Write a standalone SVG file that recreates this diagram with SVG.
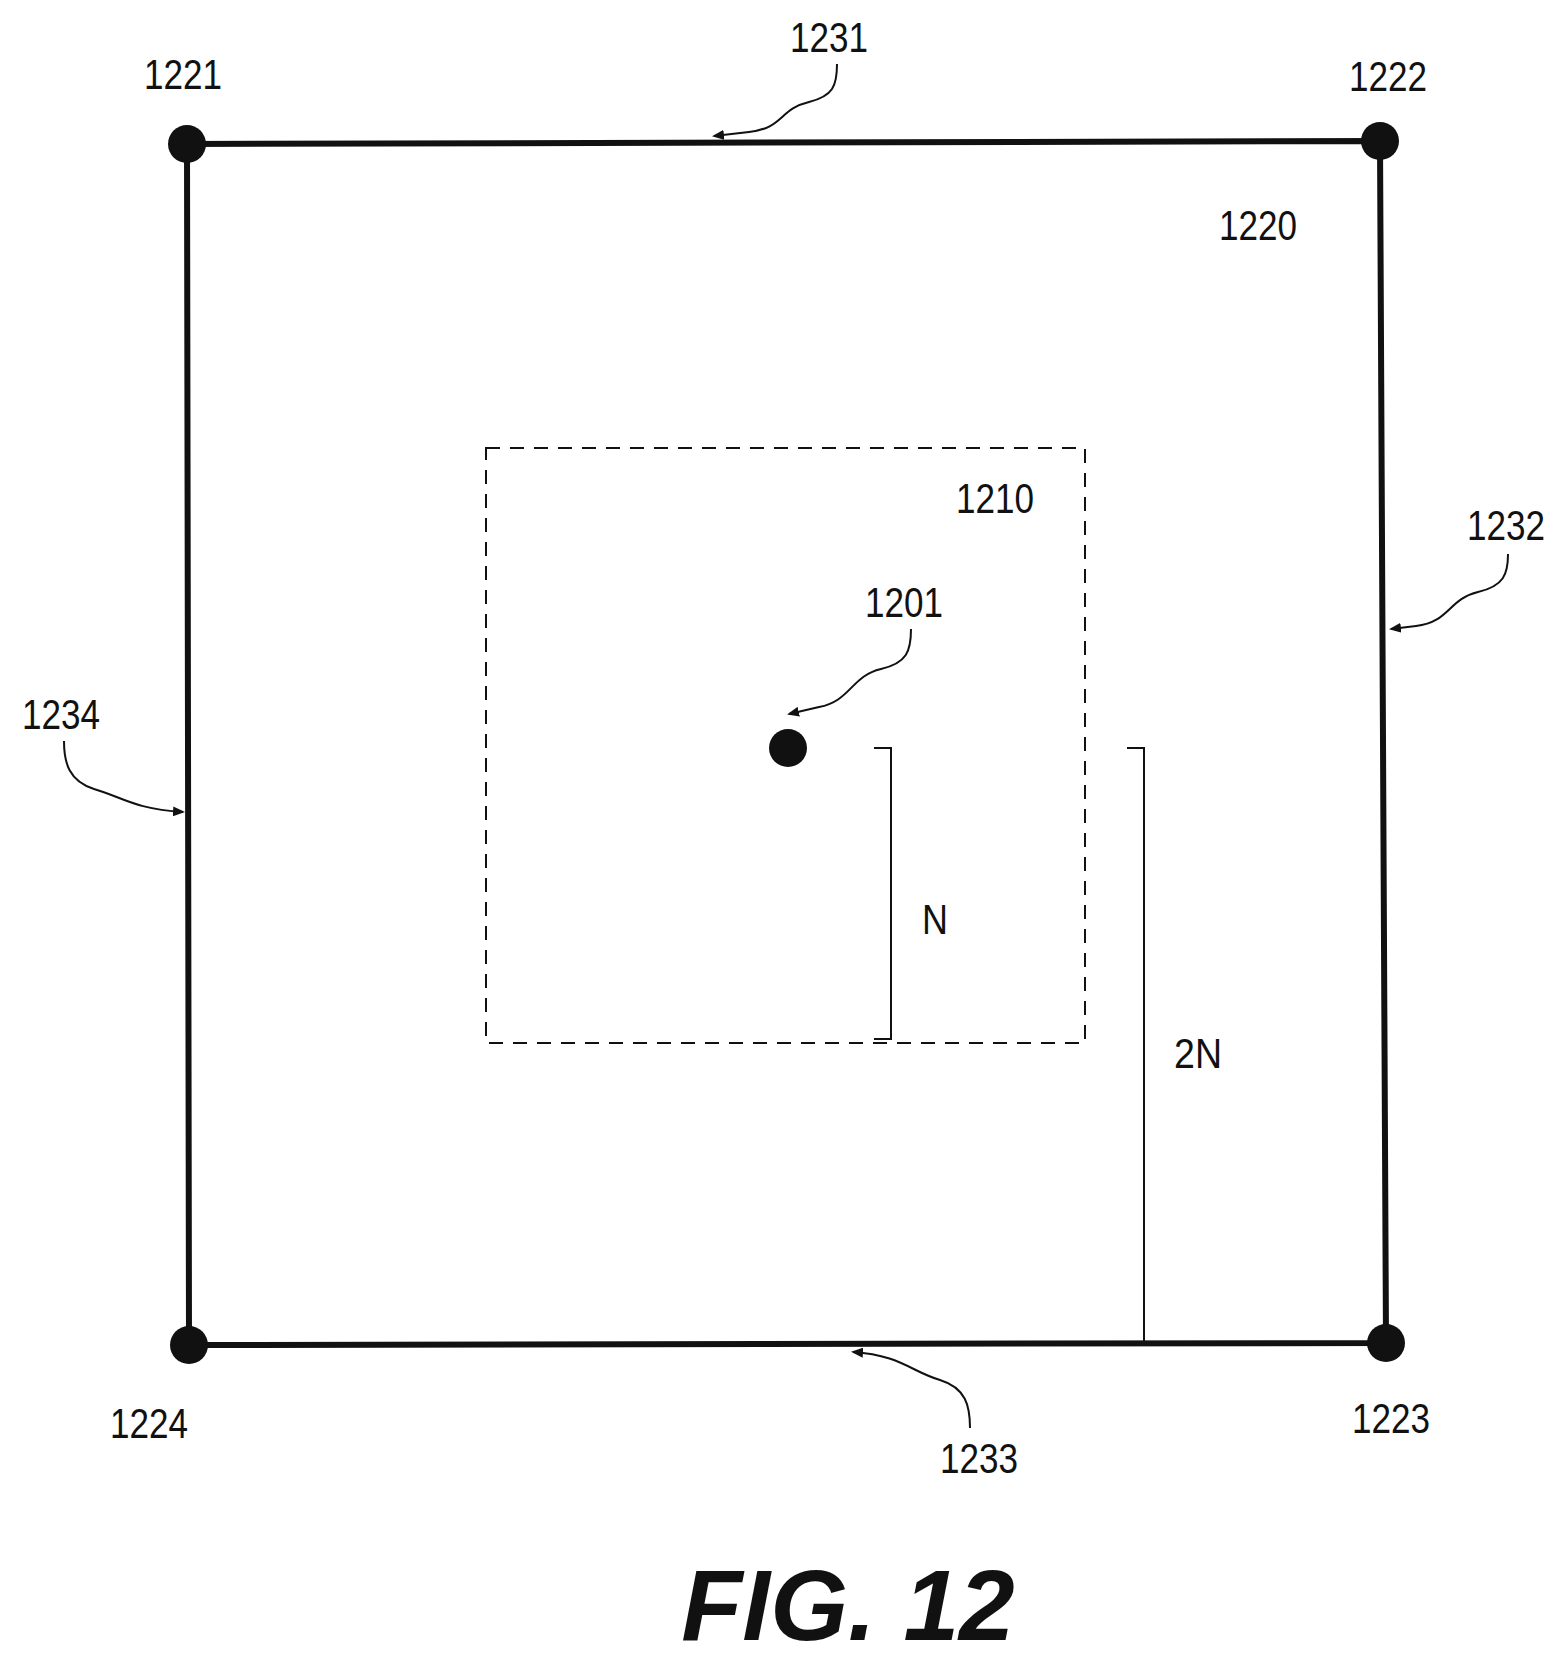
<svg xmlns="http://www.w3.org/2000/svg" width="1559" height="1668" viewBox="0 0 1559 1668">
<defs>
<style>
text{font-family:"Liberation Sans Narrow","Liberation Sans",Arial,sans-serif;font-size:42px;fill:#111;text-anchor:middle}
.edge{stroke:#111;stroke-width:6;fill:none}
.lead{stroke:#111;stroke-width:2;fill:none;marker-end:url(#ah)}
.thin{stroke:#111;stroke-width:2;fill:none}
</style>
<marker id="ah" markerWidth="12" markerHeight="10" refX="10" refY="5" orient="auto" markerUnits="userSpaceOnUse"><path d="M0,0 L12,5 L0,10 Z" fill="#111"/></marker>
</defs>
<rect width="1559" height="1668" fill="#fff"/>
<g id="connectors">
<path class="edge" d="M187,144 L1380,141 L1386,1343 L189,1345 Z"/>
<rect x="486" y="448" width="599" height="595" fill="none" stroke="#111" stroke-width="2" stroke-dasharray="14,10"/>
<path class="thin" d="M874,748 H891 V1039 H874"/>
<path class="thin" d="M1127,748 H1144 V1341"/>
<path class="lead" d="M837,64 c0,22 -4,32 -28,38 c-30,7 -25,26 -60,30 L714,136"/>
<path class="lead" d="M1508,554 c0,20 -4,32 -30,38 c-30,7 -28,30 -62,34 L1391,629"/>
<path class="lead" d="M911,629 c0,22 -4,34 -30,40 c-30,7 -30,32 -62,38 L789,714"/>
<path class="lead" d="M64,741 c0,22 5,40 30,48 c28,8 40,20 89,23"/>
<path class="lead" d="M970,1428 c0,-22 -4,-40 -30,-48 c-28,-8 -40,-25 -87,-28"/>
</g>
<g id="n1221"><circle cx="187" cy="144" r="19" fill="#111"/><text x="183" y="89" textLength="78" lengthAdjust="spacingAndGlyphs">1221</text></g>
<g id="n1222"><circle cx="1380" cy="141" r="19" fill="#111"/><text x="1388" y="91" textLength="78" lengthAdjust="spacingAndGlyphs">1222</text></g>
<g id="n1223"><circle cx="1386" cy="1343" r="19" fill="#111"/><text x="1391" y="1433" textLength="78" lengthAdjust="spacingAndGlyphs">1223</text></g>
<g id="n1224"><circle cx="189" cy="1345" r="19" fill="#111"/><text x="149" y="1438" textLength="78" lengthAdjust="spacingAndGlyphs">1224</text></g>
<g id="n1201"><circle cx="788" cy="748" r="19" fill="#111"/><text x="904" y="617" textLength="78" lengthAdjust="spacingAndGlyphs">1201</text></g>
<g id="labels">
<text x="829" y="52" textLength="78" lengthAdjust="spacingAndGlyphs">1231</text>
<text x="1258" y="240" textLength="78" lengthAdjust="spacingAndGlyphs">1220</text>
<text x="995" y="513" textLength="78" lengthAdjust="spacingAndGlyphs">1210</text>
<text x="1506" y="540" textLength="78" lengthAdjust="spacingAndGlyphs">1232</text>
<text x="61" y="729" textLength="78" lengthAdjust="spacingAndGlyphs">1234</text>
<text x="935" y="934" textLength="26" lengthAdjust="spacingAndGlyphs">N</text>
<text x="1198" y="1068" textLength="48" lengthAdjust="spacingAndGlyphs">2N</text>
<text x="979" y="1473" textLength="78" lengthAdjust="spacingAndGlyphs">1233</text>
<text x="848" y="1640" style="font-family:'Liberation Sans',Arial,sans-serif;font-weight:bold;font-style:italic;font-size:100px">FIG. 12</text>
</g>
</svg>
